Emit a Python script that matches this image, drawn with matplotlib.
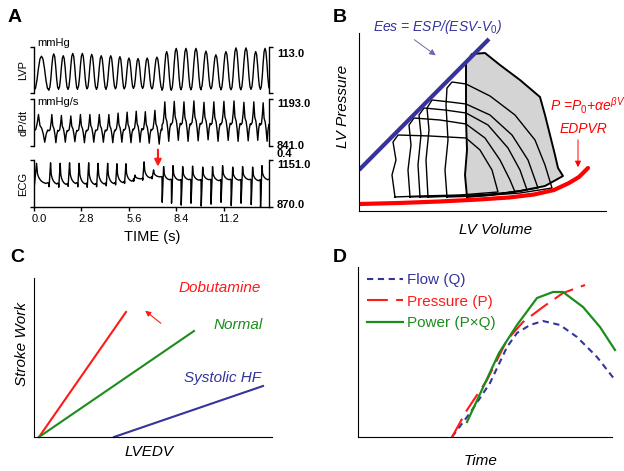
import numpy as np
import matplotlib
matplotlib.use('Agg')
import matplotlib.pyplot as plt
from matplotlib.patches import Polygon
from matplotlib.transforms import ScaledTranslation

plt.rcParams['font.family'] = ['Liberation Sans', 'DejaVu Sans']
plt.rcParams['mathtext.fontset'] = 'custom'
plt.rcParams['mathtext.rm'] = 'Liberation Sans'
plt.rcParams['mathtext.it'] = 'Liberation Sans:italic'

# ---------------- Panel A data ----------------
time_ticks = [0.0, 2.8, 5.6, 8.4, 11.2]
time_tick_labels = ['0.0', '2.8', '5.6', '8.4', '11.2']
time_max = 13.83
beat_edges = [0.0, 0.88, 1.45, 2.00, 2.57, 3.13, 3.68, 4.25, 4.80, 5.33, 5.87, 6.40,
              6.95, 7.55, 8.10, 8.67, 9.25, 9.85, 10.43, 11.02, 11.62, 12.20, 12.80,
              13.35, 13.90]
lvp_peak = [0.80, 0.85, 0.81, 0.86, 0.86, 0.84, 0.81, 0.81, 0.79, 0.76, 0.75, 0.76,
            0.78, 0.90, 0.97, 0.97, 0.97, 0.91, 0.83, 0.90, 0.98, 0.98, 0.90, 0.97]
lvp_trough = [0.06, 0.08, 0.09, 0.08, 0.10, 0.09, 0.08, 0.10, 0.09, 0.10, 0.11, 0.10,
              0.09, 0.06, 0.07, 0.08, 0.07, 0.10, 0.09, 0.07, 0.07, 0.08, 0.09, 0.08]
lvp_phase = [0, 0.1, 0.2, 0.3, 0.4, 0.5, 0.6, 0.7, 0.8, 0.9, 1.0]
lvp_shape = [0.0, 0.06, 0.3, 0.65, 0.92, 1.0, 0.92, 0.65, 0.3, 0.06, 0.0]

dpdt_peak = [0.67, 0.67, 0.65, 0.64, 0.67, 0.67, 0.67, 0.67, 0.70, 0.72, 0.74, 0.73,
             0.76, 0.94, 0.95, 0.94, 0.96, 0.93, 0.94, 0.95, 0.96, 0.93, 0.94, 0.92]
dpdt_trough = [0.08, 0.07, 0.08, 0.09, 0.07, 0.08, 0.08, 0.07, 0.08, 0.07, 0.08, 0.06,
               0.04, 0.10, 0.12, 0.10, 0.11, 0.13, 0.10, 0.12, 0.10, 0.11, 0.12, 0.10]
dpdt_phase = [0, 0.12, 0.22, 0.3, 0.4, 0.52, 0.62, 0.72, 0.82, 0.92, 1.0]
dpdt_shape = [0.42, 0.46, 0.7, 1.0, 0.6, 0.5, 0.3, 0.0, 0.3, 0.44, 0.42]

ecg_base = [0.50, 0.49, 0.48, 0.50, 0.49, 0.48, 0.49, 0.50, 0.52, 0.55, 0.60, 0.62,
            0.64, 0.58, 0.57, 0.58, 0.57, 0.58, 0.56, 0.58, 0.57, 0.58, 0.56, 0.58]
ecg_top = [0.93, 0.94, 0.93, 0.94, 0.93, 0.94, 0.93, 0.93, 0.92, 0.92, 0.68, 0.96,
           0.79, 0.86, 0.88, 0.86, 0.87, 0.85, 0.86, 0.88, 0.85, 0.86, 0.85, 0.88]
ecg_s = [0.44, 0.43, 0.42, 0.44, 0.43, 0.42, 0.43, 0.45, 0.47, 0.50, 0.55, 0.57,
         0.60, 0.10, 0.08, 0.04, 0.08, 0.02, 0.06, 0.10, 0.03, 0.08, 0.05, 0.00]
ecg_phase = [0.0, 0.02, 0.17, 0.24, 0.33, 0.45, 0.6, 0.8, 0.92, 1.0]
ecg_r_weight = [0, 0, 1.0, 0.45, 0.28, 0.15, 0.06, 0.0, 0.04, 0.0]
ecg_s_weight = [0, 1.0, 0, 0, 0, 0, 0, 0, 0, 0]
arrow_time = 7.31

# ---------------- Panel B data ----------------
espvr_v = [0, 130]
espvr_p = [41, 172]
edpvr_v = [0, 40, 80, 120, 150, 175, 195, 210, 220, 229]
edpvr_p = [7, 8, 9.5, 11.5, 13.5, 16.5, 21, 28, 34, 43]
loop1_v = [108, 106, 108, 107, 107, 107, 113, 126, 141, 161, 181, 186, 191, 196, 199, 204, 186, 161, 131, 108]
loop1_p = [14, 36, 61, 91, 126, 148, 157, 158, 146, 131, 114, 96, 76, 56, 43, 35, 25, 20, 16, 14]
loop2_v = [88, 86, 89, 87, 88, 93, 107, 131, 156, 176, 186, 193, 161, 121, 88]
loop2_p = [14, 41, 71, 106, 123, 129, 127, 115, 96, 71, 46, 23, 18, 15, 14]
loop3_v = [69, 67, 70, 68, 73, 91, 107, 131, 153, 169, 179, 141, 101, 69]
loop3_p = [14, 51, 81, 103, 111, 109, 107, 96, 76, 51, 23, 17, 15, 14]
loop4_v = [61, 59, 62, 60, 65, 86, 107, 129, 149, 161, 168, 131, 91, 61]
loop4_p = [14, 46, 76, 96, 103, 101, 98, 86, 63, 41, 21, 16, 15, 14]
loop5_v = [51, 49, 52, 50, 55, 81, 107, 126, 141, 151, 156, 121, 81, 51]
loop5_p = [14, 41, 66, 86, 93, 91, 87, 73, 51, 31, 19, 16, 15, 14]
loop6_v = [36, 33, 37, 34, 39, 71, 107, 121, 133, 139, 101, 61, 36]
loop6_p = [14, 36, 51, 69, 76, 75, 73, 61, 41, 19, 16, 15, 14]

# ---------------- Panel C data ----------------
dobut_x = [5, 92]
dobut_y = [0, 125]
normal_x = [5, 160]
normal_y = [0, 106]
shf_x = [80, 229]
shf_y = [0, 51]

# ---------------- Panel D data ----------------
flow_t = [94, 112, 132, 149, 159, 172, 185, 202, 219, 239, 257]
flow_y = [0, 24, 54, 90, 104, 112, 116, 112, 100, 80, 57]
press_t = [94, 109, 129, 149, 165, 185, 205, 227]
press_y = [0, 27, 57, 97, 115, 130, 144, 152]
power_t = [109, 141, 159, 179, 195, 205, 225, 242, 257]
power_y = [15, 84, 112, 139, 145, 145, 130, 110, 87]

RED = '#ff1a1a'
BLUE = '#34349a'
GREEN = '#1c8c1c'

W, H = 624, 471
fig = plt.figure(figsize=(W / 100, H / 100), dpi=100)


def ax_px(l, t, r, b):
    return fig.add_axes([l / W, 1 - b / H, (r - l) / W, (b - t) / H])


# ---------- build traces for panel A ----------
edges = np.array(beat_edges)
starts, ends = edges[:-1], edges[1:]
t_lvp = np.concatenate([a + (b - a) * np.array(lvp_phase) for a, b in zip(starts, ends)])
y_lvp = np.concatenate([tr + (pk - tr) * np.array(lvp_shape) for pk, tr in zip(lvp_peak, lvp_trough)])
t_dp = np.concatenate([a + (b - a) * np.array(dpdt_phase) for a, b in zip(starts, ends)])
y_dp = np.concatenate([tr + (pk - tr) * np.array(dpdt_shape) for pk, tr in zip(dpdt_peak, dpdt_trough)])
t_ecg = np.concatenate([a + (b - a) * np.array(ecg_phase) for a, b in zip(starts, ends)])
y_ecg = np.concatenate([bs + np.array(ecg_r_weight) * (tp - bs) + np.array(ecg_s_weight) * (s - bs)
                        for bs, tp, s in zip(ecg_base, ecg_top, ecg_s)])

ax_lvp = ax_px(34, 47, 268.5, 93)
ax_dp = ax_px(34, 99, 268.5, 146)
ax_ecg = ax_px(34, 160, 268.5, 207)

for ax, (tt, yy) in zip([ax_lvp, ax_dp, ax_ecg], [(t_lvp, y_lvp), (t_dp, y_dp), (t_ecg, y_ecg)]):
    ax.plot(tt, yy, color='black', lw=1.0)
    ax.set_xlim(0, time_max)
    ax.set_ylim(0, 1)
    ax.spines['top'].set_visible(False)
    for s in ['left', 'right', 'bottom']:
        ax.spines[s].set_linewidth(1.0)
    ax.set_yticks([0, 1])
    ax.tick_params(axis='y', which='both', direction='out', length=3, width=1.0,
                   left=True, right=True, labelleft=False, labelright=False)
    ax.patch.set_alpha(0)

for ax in [ax_lvp, ax_dp]:
    ax.spines['bottom'].set_visible(False)
    ax.set_xticks([])

ax_ecg.set_xticks(time_ticks)
ax_ecg.set_xticklabels(time_tick_labels, fontsize=8)
ax_ecg.tick_params(axis='x', direction='out', length=3, width=1.0, pad=2)
off = ScaledTranslation(5 / 100, 0, fig.dpi_scale_trans)
for lab in ax_ecg.get_xticklabels():
    lab.set_transform(lab.get_transform() + off)

for ax, name in zip([ax_lvp, ax_dp, ax_ecg], ['LVP', 'dP/dt', 'ECG']):
    ax.text(-0.045, 0.5, name, transform=ax.transAxes, rotation=90, ha='center',
            va='center', fontsize=8)

ax_lvp.text(0.013, 1.087, 'mmHg', transform=ax_lvp.transAxes, fontsize=8, ha='left', va='center')
ax_dp.text(0.013, 0.94, 'mmHg/s', transform=ax_dp.transAxes, fontsize=8, ha='left', va='center')

right_labels = [(ax_lvp, 0.848, '113.0'), (ax_dp, 0.894, '1193.0'), (ax_dp, 0.01, '841.0'),
                (ax_dp, -0.18, '0.4'), (ax_ecg, 0.894, '1151.0'), (ax_ecg, 0.043, '870.0')]
for ax, yy, txt in right_labels:
    ax.text(1.036, yy, txt, transform=ax.transAxes, fontsize=8, fontweight='bold',
            ha='left', va='center')

ax_ecg.annotate('', xy=(arrow_time, 0.80), xytext=(arrow_time, 1.28),
                xycoords=('data', 'axes fraction'), textcoords=('data', 'axes fraction'),
                arrowprops=dict(arrowstyle='-|>', color=RED, lw=1.5, mutation_scale=10),
                annotation_clip=False)

fig.text(152 / W, 1 - 237 / H, 'TIME (s)', fontsize=10.5, ha='center', va='center')

# ---------- Panel B ----------
ax_b = ax_px(359, 33, 606, 211)
ax_b.set_xlim(0, 247)
ax_b.set_ylim(0, 178)
for lv, lp in [(loop2_v, loop2_p), (loop3_v, loop3_p), (loop4_v, loop4_p),
               (loop5_v, loop5_p), (loop6_v, loop6_p)]:
    ax_b.plot(lv, lp, color='black', lw=1.0)
ax_b.add_patch(Polygon(np.column_stack([loop1_v, loop1_p]), closed=True,
                       fc=(0.73, 0.73, 0.73), alpha=0.62, ec='none'))
ax_b.plot(loop1_v, loop1_p, color='black', lw=1.4)
ax_b.plot(espvr_v, espvr_p, color=BLUE, lw=3, solid_capstyle='butt')
ax_b.plot(edpvr_v, edpvr_p, color='#ff0000', lw=3, solid_capstyle='round')
for s in ['top', 'right']:
    ax_b.spines[s].set_visible(False)
ax_b.set_xticks([])
ax_b.set_yticks([])
ax_b.text(79, 184, r'Ees = ESP/(ESV-V$_0$)', color=BLUE, fontsize=10, style='italic',
          ha='center', va='center', clip_on=False)
ax_b.annotate('', xy=(79, 154), xytext=(53, 173),
              arrowprops=dict(arrowstyle='-|>', color='#6a6ab0', lw=0.7, mutation_scale=9))
ax_b.text(191, 105, r'$P$ =$P_0$+$\alpha e^{\beta V}$', color='#ff0000', fontsize=10,
          style='italic', ha='left', va='center', clip_on=False)
ax_b.text(201, 82, 'EDPVR', color='#ff0000', fontsize=10, style='italic', ha='left', va='center')
ax_b.annotate('', xy=(219, 41), xytext=(219, 74),
              arrowprops=dict(arrowstyle='-|>', color='#ff0000', lw=0.7, mutation_scale=9))
ax_b.text(-0.065, 0.586, 'LV Pressure', transform=ax_b.transAxes, rotation=90, fontsize=11,
          style='italic', ha='center', va='center')
ax_b.text(0.551, -0.107, 'LV Volume', transform=ax_b.transAxes, fontsize=11,
          style='italic', ha='center', va='center')

# ---------- Panel C ----------
ax_c = ax_px(34, 278, 272, 437)
ax_c.set_xlim(0, 238)
ax_c.set_ylim(0, 159)
ax_c.plot(dobut_x, dobut_y, color=RED, lw=1.5, clip_on=False)
ax_c.plot(normal_x, normal_y, color=GREEN, lw=1.5, clip_on=False)
ax_c.plot(shf_x, shf_y, color=BLUE, lw=1.5, clip_on=False)
for s in ['top', 'right']:
    ax_c.spines[s].set_visible(False)
ax_c.set_xticks([])
ax_c.set_yticks([])
ax_c.text(186, 149, 'Dobutamine', color=RED, fontsize=11, style='italic', ha='center', va='center')
ax_c.text(204, 112, 'Normal', color=GREEN, fontsize=11, style='italic', ha='center', va='center')
ax_c.text(189, 59, 'Systolic HF', color=BLUE, fontsize=11, style='italic', ha='center', va='center')
ax_c.annotate('', xy=(109, 128), xytext=(129, 112),
              arrowprops=dict(arrowstyle='-|>', color=RED, lw=0.8, mutation_scale=8))
ax_c.text(-0.05, 0.585, 'Stroke Work', transform=ax_c.transAxes, rotation=90, fontsize=11,
          style='italic', ha='center', va='center')
ax_c.text(0.483, -0.094, 'LVEDV', transform=ax_c.transAxes, fontsize=11,
          style='italic', ha='center', va='center')

# ---------- Panel D ----------
ax_d = ax_px(358, 267, 612, 437)
ax_d.set_xlim(0, 254)
ax_d.set_ylim(0, 170)
ax_d.plot(flow_t, flow_y, color=BLUE, lw=1.5, ls=(0, (3, 2.2)), label='Flow (Q)', clip_on=False)
ax_d.plot(press_t, press_y, color=RED, lw=1.5, ls=(0, (10, 4)), label='Pressure (P)', clip_on=False)
ax_d.plot(power_t, power_y, color=GREEN, lw=1.6, label='Power (P\u00d7Q)', clip_on=False)
for s in ['top', 'right']:
    ax_d.spines[s].set_visible(False)
ax_d.set_xticks([])
ax_d.set_yticks([])
ax_d.legend(loc='upper left', bbox_to_anchor=(0.01, 1.0), frameon=False, fontsize=11,
            handlelength=2.35, handletextpad=0.3, labelspacing=0.5, borderaxespad=0,
            labelcolor='linecolor')
ax_d.text(0.484, -0.141, 'Time', transform=ax_d.transAxes, fontsize=11,
          style='italic', ha='center', va='center')

# ---------- Panel letters ----------
for lx, ly, letter in [(8, 22, 'A'), (333, 22, 'B'), (10, 262, 'C'), (333, 262, 'D')]:
    fig.text(lx / W, 1 - ly / H, letter, fontsize=14, fontweight='bold', ha='left', va='baseline')

fig.savefig('out.png', dpi=100)
